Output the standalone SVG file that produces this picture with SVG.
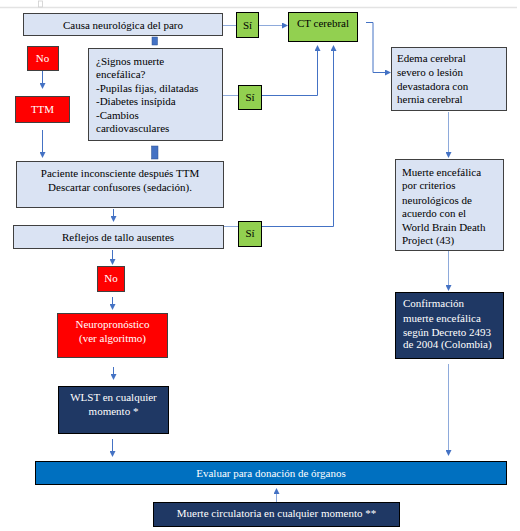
<svg xmlns="http://www.w3.org/2000/svg" width="520" height="531" viewBox="0 0 520 531" font-family="'Liberation Serif', 'DejaVu Serif', 'Times New Roman', serif">
<style>
text{font-family:"Liberation Serif","DejaVu Serif","Times New Roman",serif;font-size:11px;fill:#000}
.w{fill:#fff}
.c{text-anchor:middle}
.lb{fill:#dae3f3;stroke:#404040;stroke-width:1}
.gr{fill:#92d050;stroke:#000;stroke-width:1}
.rd{fill:#ff0000;stroke:#404040;stroke-width:1}
.nv{fill:#1f3864;stroke:#000;stroke-width:1}
.bl{fill:#0070c0;stroke:#000;stroke-width:1}
.ln{fill:none;stroke:#4472c4;stroke-width:1}
.lt{fill:none;stroke:#8eaadb;stroke-width:1}
.sq{fill:#4472c4;stroke:#2f528f;stroke-width:0.5}
</style>
<defs>
<marker id="a" markerWidth="6" markerHeight="6" refX="5" refY="3" orient="auto" markerUnits="userSpaceOnUse">
<path d="M0,0 L6,3 L0,6 Z" fill="#4472c4"/>
</marker>
</defs>
<rect width="520" height="531" fill="#fff"/>
<line x1="0" y1="7.5" x2="517" y2="7.5" stroke="#e3e3e3" stroke-width="1.5"/>
<rect x="38.5" y="1" width="4" height="6" fill="none" stroke="#cfcfcf" stroke-width="0.8"/>

<g id="connectors">
<line class="lt" x1="222" y1="25.5" x2="236" y2="25.5"/>
<line class="lt" x1="258" y1="25.5" x2="287" y2="25.5" marker-end="url(#a)"/>
<path class="ln" d="M366,22.5 H373 V72.5 H390" marker-end="url(#a)"/>
<line class="lt" x1="222" y1="95.5" x2="238" y2="95.5"/>
<path class="ln" d="M262,95.5 H317.5 V46" marker-end="url(#a)"/>
<path class="ln" d="M262,226.5 H333.5 V46" marker-end="url(#a)"/>
<line class="lt" x1="224" y1="226.5" x2="238" y2="226.5"/>
<rect class="sq" x="152" y="37" width="5.5" height="8"/>
<rect class="sq" x="151.5" y="146" width="6.5" height="13"/>
<line class="ln" x1="42.5" y1="70" x2="42.5" y2="88" marker-end="url(#a)"/>
<line class="ln" x1="42.5" y1="130" x2="42.5" y2="157" marker-end="url(#a)"/>
<line class="ln" x1="113.5" y1="209" x2="113.5" y2="221" marker-end="url(#a)"/>
<line class="ln" x1="112.5" y1="250" x2="112.5" y2="264" marker-end="url(#a)"/>
<line class="ln" x1="112.5" y1="297" x2="112.5" y2="309" marker-end="url(#a)"/>
<line class="ln" x1="113.5" y1="367" x2="113.5" y2="379" marker-end="url(#a)"/>
<line class="ln" x1="112.5" y1="439" x2="112.5" y2="456" marker-end="url(#a)"/>
<line class="lt" x1="448.5" y1="112" x2="448.5" y2="157" marker-end="url(#a)"/>
<line class="lt" x1="448.5" y1="251" x2="448.5" y2="290" marker-end="url(#a)"/>
<line class="lt" x1="448.5" y1="364" x2="448.5" y2="455" marker-end="url(#a)"/>
<line class="lt" x1="276.5" y1="502" x2="276.5" y2="489" marker-end="url(#a)"/>
</g>

<g id="causa"><rect class="lb" x="23.5" y="13.5" width="199" height="22"/><text class="c" x="123" y="28.5">Causa neurológica del paro</text></g>
<g id="si1"><rect class="gr" x="236.5" y="12.5" width="22" height="25"/><text class="c" x="247.5" y="28.5">Sí</text></g>
<g id="ct"><rect class="gr" x="288.5" y="12.5" width="69" height="29"/><text class="c" x="323" y="27">CT cerebral</text></g>
<g id="edema"><rect class="lb" x="391.5" y="47.5" width="115" height="63"/>
<text x="397" y="61.5">Edema cerebral</text><text x="397" y="75.5">severo o lesión</text><text x="397" y="89.5">devastadora con</text><text x="397" y="103">hernia cerebral</text></g>
<g id="no1"><rect class="rd" x="27.5" y="46.5" width="31" height="24"/><text class="c w" x="42.5" y="61.5">No</text></g>
<g id="ttm"><rect class="rd" x="15.5" y="96.5" width="54" height="26"/><text class="c w" x="42.5" y="112.5">TTM</text></g>
<g id="signos"><rect class="lb" x="88.5" y="48.5" width="134" height="92"/>
<text x="96" y="64.5">¿Signos muerte</text><text x="96" y="78">encefálica?</text><text x="96" y="91.5">-Pupilas fijas, dilatadas</text><text x="96" y="104.5">-Diabetes insípida</text><text x="96" y="118.5">-Cambios</text><text x="96" y="132">cardiovasculares</text></g>
<g id="si2"><rect class="gr" x="238.5" y="85.5" width="23" height="24"/><text class="c" x="250" y="100.5">Sí</text></g>
<g id="paciente"><rect class="lb" x="16.5" y="161.5" width="207" height="46"/>
<text class="c" x="120" y="177">Paciente inconsciente después TTM</text><text class="c" x="120" y="191">Descartar confusores (sedación).</text></g>
<g id="reflejos"><rect class="lb" x="13.5" y="225.5" width="210" height="23"/><text class="c" x="118" y="241">Reflejos de tallo ausentes</text></g>
<g id="si3"><rect class="gr" x="238.5" y="221.5" width="23" height="25"/><text class="c" x="250" y="237">Sí</text></g>
<g id="no2"><rect class="rd" x="97.5" y="266.5" width="27" height="25"/><text class="c w" x="111" y="282">No</text></g>
<g id="neuro"><rect class="rd" x="57.5" y="313.5" width="110" height="44"/>
<text class="c w" x="112.5" y="328">Neuropronóstico</text><text class="c w" x="112.5" y="342">(ver algoritmo)</text></g>
<g id="wlst"><rect class="nv" x="58.5" y="386.5" width="110" height="47"/>
<text class="c w" x="113.5" y="401">WLST en cualquier</text><text class="c w" x="113.5" y="415">momento *</text></g>
<g id="muerte"><rect class="lb" x="395.5" y="159.5" width="108" height="91"/>
<text x="402" y="176">Muerte encefálica</text><text x="402" y="189">por criterios</text><text x="402" y="203.5">neurológicos de</text><text x="402" y="217">acuerdo con el</text><text x="402" y="231">World Brain Death</text><text x="402" y="244">Project (43)</text></g>
<g id="confirmacion"><rect class="nv" x="395.5" y="292.5" width="108" height="66"/>
<text class="w" x="403" y="307">Confirmación</text><text class="w" x="403" y="321.5">muerte encefálica</text><text class="w" x="403" y="335.5">según Decreto 2493</text><text class="w" x="403" y="348">de 2004 (Colombia)</text></g>
<g id="evaluar"><rect class="bl" x="35.5" y="461.5" width="471" height="23"/><text class="c w" x="271" y="477">Evaluar para donación de órganos</text></g>
<g id="circulatoria"><rect class="nv" x="153.5" y="502.5" width="246" height="24"/><text class="c w" x="276.5" y="517">Muerte circulatoria en cualquier momento **</text></g>
</svg>
